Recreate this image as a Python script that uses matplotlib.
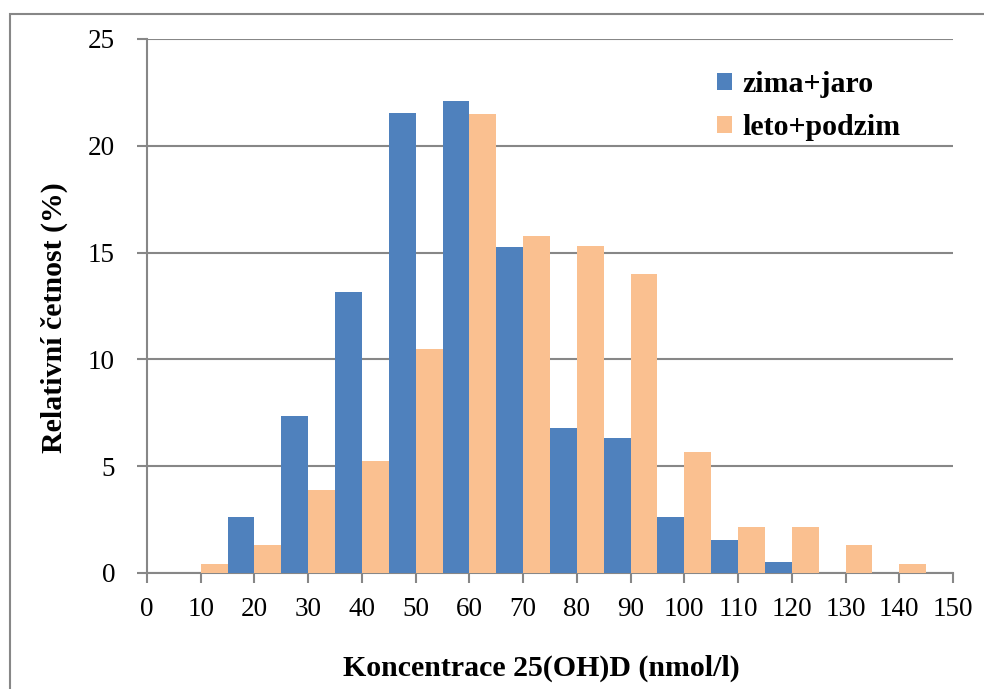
import numpy as np
import matplotlib.pyplot as plt
from matplotlib.patches import Rectangle, Patch

# relativni cetnost (%) pro intervaly koncentrace 25(OH)D
stredy = [10, 20, 30, 40, 50, 60, 70, 80, 90, 100, 110, 120, 130, 140]
zima_jaro = [0.0, 2.6, 7.35, 13.15, 21.55, 22.1, 15.25, 6.8, 6.3, 2.6, 1.55, 0.5, 0.0, 0.0]
leto_podzim = [0.4, 1.3, 3.9, 5.25, 10.5, 21.5, 15.8, 15.3, 14.0, 5.65, 2.15, 2.15, 1.3, 0.4]

modra = "#4F81BD"
oranzova = "#FAC090"
seda = "#878787"

plt.rcParams['font.family'] = ['Liberation Serif', 'DejaVu Serif']

fig = plt.figure(figsize=(9.84, 6.89), dpi=100)
ax = fig.add_axes([147 / 984, 1 - 573 / 689, (953 - 147) / 984, (573 - 39) / 689])

# ramecek kolem celeho grafu
fig.patches.append(Rectangle((10 / 984, -0.1), 1.2, 1 - 14 / 689 + 0.1,
                             transform=fig.transFigure, fill=False,
                             edgecolor=seda, linewidth=1.5))

sirka = 5
x = np.array(stredy, dtype=float)
ax.bar(x - sirka, zima_jaro, width=sirka, align='edge', color=modra,
       linewidth=0, zorder=3)
ax.bar(x, leto_podzim, width=sirka, align='edge', color=oranzova,
       linewidth=0, zorder=3)

ax.set_xlim(0, 150)
ax.set_ylim(0, 25)
ax.set_xticks(np.arange(0, 151, 10))
ax.set_yticks(np.arange(0, 26, 5))
ax.yaxis.grid(True, color=seda, linewidth=1.5, zorder=0)
ax.set_axisbelow(True)

for s in ['top', 'right']:
    ax.spines[s].set_visible(False)
for s in ['left', 'bottom']:
    ax.spines[s].set_color(seda)
    ax.spines[s].set_linewidth(1.5)

ax.tick_params(axis='both', direction='out', length=7, width=1.5, color=seda,
               labelsize=19.5)
ax.tick_params(axis='y', pad=16)
ax.tick_params(axis='x', pad=10)

fig.text(541 / 984, 1 - 668 / 689, "Koncentrace 25(OH)D (nmol/l)",
         ha='center', va='center', fontsize=21.5, fontweight='bold')
fig.text(54 / 984, 1 - 318 / 689, "Relativní četnost (%)", rotation=90,
         ha='center', va='center', fontsize=21.5, fontweight='bold')

handles = [Patch(facecolor=modra, edgecolor='none'),
           Patch(facecolor=oranzova, edgecolor='none')]
ax.legend(handles, ["zima+jaro", "leto+podzim"], loc='upper left',
          bbox_to_anchor=(696 / 984, 1 - 50 / 689), bbox_transform=fig.transFigure,
          frameon=False, prop={'weight': 'bold', 'size': 21.5},
          handlelength=0.5, handleheight=0.5, handletextpad=0.35,
          labelspacing=0.55, borderpad=0.2)

fig.savefig("out.png", dpi=100)
